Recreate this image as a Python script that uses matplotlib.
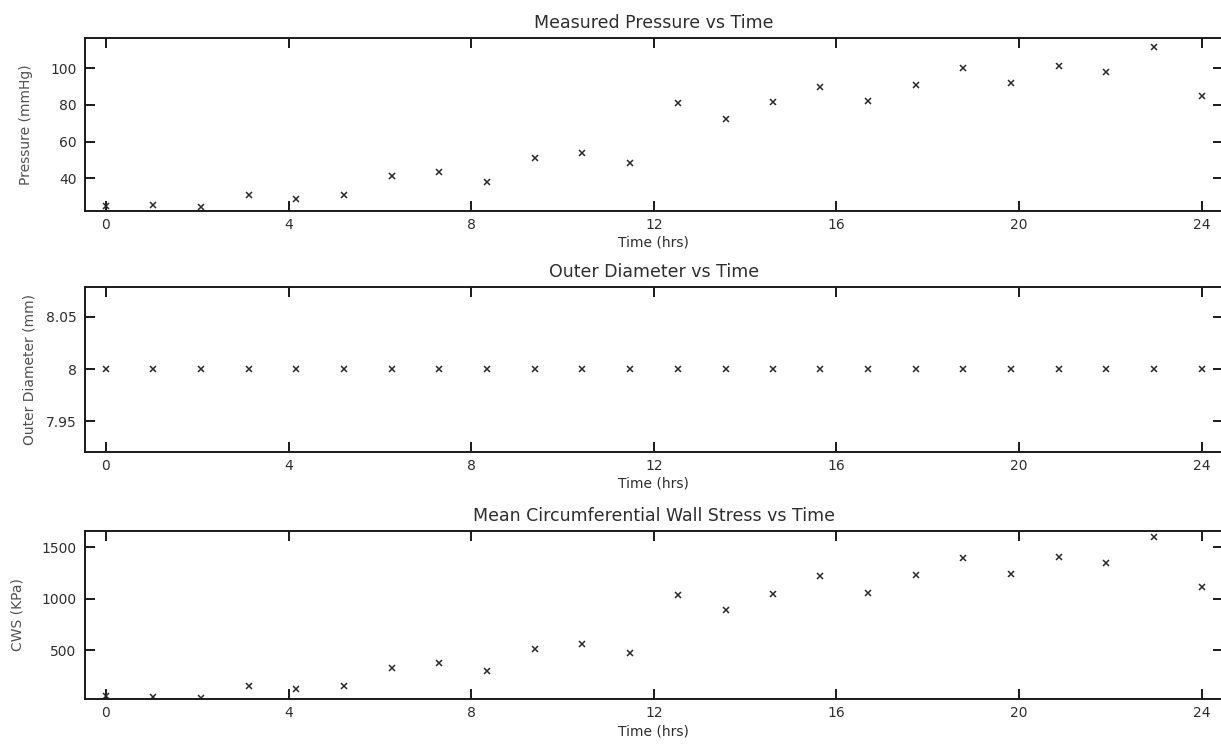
import matplotlib
matplotlib.use("Agg")
import matplotlib.pyplot as plt

# Sample times (hours) over the 24 h experiment
time_hrs = [0.00, 1.04, 2.09, 3.13, 4.17, 5.22, 6.26, 7.30, 8.35, 9.39, 10.43, 11.48,
            12.52, 13.57, 14.61, 15.65, 16.70, 17.74, 18.78, 19.83, 20.87, 21.91, 22.96, 24.00]

# Measured luminal pressure (mmHg)
pressure = [25.0, 25.4, 24.2, 30.9, 28.5, 30.9, 41.3, 43.6, 38.1, 51.2, 54.0, 48.5,
            81.1, 72.1, 81.4, 90.0, 82.3, 91.1, 100.3, 92.0, 101.3, 98.0, 111.8, 84.7]

# Outer diameter (mm)
outer_diameter = [8, 8, 8, 8, 8, 8, 8, 8, 8, 8, 8, 8,
                  8, 8, 8, 8, 8, 8, 8, 8, 8, 8, 8, 8]

# Mean circumferential wall stress (KPa)
cws = [52, 45, 35, 149, 117, 149, 322, 376, 295, 507, 556, 468,
       1039, 886, 1046, 1217, 1058, 1227, 1396, 1243, 1409, 1351, 1600, 1113]

x_ticks = [0, 4, 8, 12, 16, 20, 24]
x_ticklabels = ["0", "4", "8", "12", "16", "20", "24"]

panels = [
    dict(y=pressure, title="Measured Pressure vs Time", ylabel="Pressure (mmHg)",
         yticks=[40, 60, 80, 100], yticklabels=["40", "60", "80", "100"],
         ylim=(22.3, 116.5), rect=[0.0696, 0.7176, 0.9318, 0.2315], lx=-0.046),
    dict(y=outer_diameter, title="Outer Diameter vs Time", ylabel="Outer Diameter (mm)",
         yticks=[7.95, 8.0, 8.05], yticklabels=["7.95", "8", "8.05"],
         ylim=(7.921, 8.079), rect=[0.0696, 0.3945, 0.9318, 0.2212], lx=-0.0426),
    dict(y=cws, title="Mean Circumferential Wall Stress vs Time", ylabel="CWS (KPa)",
         yticks=[500, 1000, 1500], yticklabels=["500", "1000", "1500"],
         ylim=(20, 1662), rect=[0.0696, 0.0626, 0.9318, 0.2260], lx=-0.053),
]

plt.rcParams["font.family"] = ["DejaVu Sans"]
text_color = "#2e2e2e"
label_color = "#505050"
line_color = "#1a1a1a"
marker_color = "#2a2a2a"

fig = plt.figure(figsize=(12.21, 7.46), dpi=100)

for p in panels:
    ax = fig.add_axes(p["rect"])
    ax.plot(time_hrs, p["y"], linestyle="none", marker="x", markersize=4.5,
            markeredgewidth=1.1, color=marker_color)
    ax.set_xlim(-0.46, 24.46)
    ax.set_ylim(*p["ylim"])
    ax.set_xticks(x_ticks)
    ax.set_xticklabels(x_ticklabels)
    ax.set_yticks(p["yticks"])
    ax.set_yticklabels(p["yticklabels"])
    ax.tick_params(direction="in", top=True, right=True, length=7.5, width=1.4,
                   color=line_color, labelsize=10, labelcolor=text_color)
    ax.tick_params(axis="x", pad=5)
    ax.tick_params(axis="y", pad=6)
    for s in ax.spines.values():
        s.set_linewidth(1.4)
        s.set_color(line_color)
    ax.set_title(p["title"], fontsize=12.5, color=text_color, pad=7)
    ax.set_xlabel("Time (hrs)", fontsize=10, color=text_color, labelpad=3)
    ax.set_ylabel(p["ylabel"], fontsize=10, color=label_color)
    ax.yaxis.set_label_coords(p["lx"], 0.5)

fig.savefig("out.png", dpi=100)
